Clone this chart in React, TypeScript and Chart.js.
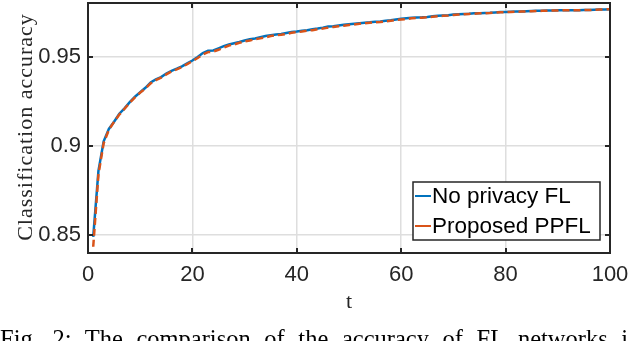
import React, { useEffect, useRef } from "react";
import { Chart, registerables } from "chart.js";

Chart.register(...registerables);

const T = [
  1, 2, 3, 4, 5, 6, 7, 8, 9, 10, 11, 12, 13, 14, 15, 16, 17, 18, 19, 20,
  21, 22, 23, 24, 25, 26, 27, 28, 29, 30, 31, 32, 33, 34, 35, 36, 37, 38, 39, 40,
  41, 42, 43, 44, 45, 46, 47, 48, 49, 50, 51, 52, 53, 54, 55, 56, 57, 58, 59, 60,
  61, 62, 63, 64, 65, 66, 67, 68, 69, 70, 71, 72, 73, 74, 75, 76, 77, 78, 79, 80,
  81, 82, 83, 84, 85, 86, 87, 88, 89, 90, 91, 92, 93, 94, 95, 96, 97, 98, 99, 100,
];

const NO_PRIVACY_FL = [
  0.849, 0.886, 0.9025, 0.9095, 0.9135, 0.918, 0.921, 0.9245, 0.9275, 0.93,
  0.9325, 0.9355, 0.9372, 0.9385, 0.9405, 0.942, 0.9432, 0.9445, 0.9462, 0.9478,
  0.9498, 0.952, 0.9532, 0.9534, 0.9546, 0.9558, 0.9568, 0.9575, 0.9582, 0.959,
  0.9597, 0.9601, 0.9608, 0.9615, 0.962, 0.9624, 0.9627, 0.9632, 0.9637, 0.964,
  0.9645, 0.9648, 0.9653, 0.9657, 0.9662, 0.9668, 0.967, 0.9674, 0.9678, 0.9681,
  0.9684, 0.9687, 0.969, 0.9692, 0.9695, 0.9697, 0.97, 0.9703, 0.9708, 0.9712,
  0.9715, 0.9717, 0.9719, 0.972, 0.9722, 0.9726, 0.9728, 0.973, 0.9732, 0.9735,
  0.9737, 0.9739, 0.974, 0.9742, 0.9743, 0.9744, 0.9745, 0.9747, 0.9749, 0.975,
  0.9751, 0.9752, 0.9753, 0.9754, 0.9755, 0.9756, 0.9757, 0.9758, 0.9758, 0.9759,
  0.9759, 0.976, 0.976, 0.976, 0.9761, 0.9761, 0.9762, 0.9763, 0.9764, 0.9765,
];

const PROPOSED_PPFL = [
  0.8435, 0.884, 0.9015, 0.909, 0.9135, 0.9175, 0.9208, 0.9242, 0.9272, 0.9298,
  0.9322, 0.935, 0.9368, 0.9382, 0.94, 0.9417, 0.9428, 0.9442, 0.9458, 0.9474,
  0.9492, 0.9512, 0.9525, 0.9528, 0.9538, 0.955, 0.9562, 0.9568, 0.9577, 0.9585,
  0.959, 0.9597, 0.9602, 0.9608, 0.9615, 0.962, 0.9622, 0.9627, 0.9633, 0.9637,
  0.964, 0.9645, 0.9648, 0.9653, 0.9657, 0.9662, 0.9666, 0.967, 0.9673, 0.9677,
  0.968, 0.9684, 0.9686, 0.9689, 0.9692, 0.9694, 0.9697, 0.97, 0.9705, 0.9708,
  0.971, 0.9714, 0.9716, 0.9718, 0.972, 0.9723, 0.9726, 0.9728, 0.973, 0.9733,
  0.9735, 0.9737, 0.9739, 0.974, 0.9742, 0.9743, 0.9744, 0.9746, 0.9748, 0.9749,
  0.975, 0.9751, 0.9752, 0.9753, 0.9754, 0.9755, 0.9756, 0.9757, 0.9758, 0.9758,
  0.9759, 0.9759, 0.976, 0.976, 0.976, 0.9761, 0.9762, 0.9763, 0.9764, 0.9765,
];

const SERIES_NAMES = ["No privacy FL", "Proposed PPFL"];
const Y_TICKS = [0.85, 0.9, 0.95];
const Y_TICK_LABELS = ["0.85", "0.9", "0.95"];
const X_TICKS = [0, 20, 40, 60, 80, 100];
const Y_TITLE = "Classification accuracy";
const X_TITLE = "t";
const CAPTION = "Fig. 2: The comparison of the accuracy of FL networks i";

const BLUE = "#0072BD";
const ORANGE = "#D95319";
const AXIS = "#262626";
const SANS = '"Liberation Sans", Arial, sans-serif';
const SERIF = '"Liberation Serif", "Times New Roman", serif';

const framePlugin = {
  id: "matlabFrame",
  afterDatasetsDraw(chart: any) {
    const { ctx, chartArea: a, scales } = chart;
    const xs = scales.x;
    const ys = scales.y;
    ctx.save();
    ctx.strokeStyle = AXIS;
    ctx.lineWidth = 2;
    ctx.strokeRect(a.left, a.top, a.right - a.left, a.bottom - a.top);
    const tl = 5;
    ctx.beginPath();
    X_TICKS.forEach((v) => {
      const px = Math.round(xs.getPixelForValue(v));
      ctx.moveTo(px, a.bottom);
      ctx.lineTo(px, a.bottom - tl);
      ctx.moveTo(px, a.top);
      ctx.lineTo(px, a.top + tl);
    });
    Y_TICKS.forEach((v) => {
      const py = Math.round(ys.getPixelForValue(v));
      ctx.moveTo(a.left, py);
      ctx.lineTo(a.left + tl, py);
      ctx.moveTo(a.right, py);
      ctx.lineTo(a.right - tl, py);
    });
    ctx.stroke();

    // legend
    const lx = 413, ly = 182, lw = 187, lh = 58;
    ctx.fillStyle = "#ffffff";
    ctx.fillRect(lx, ly, lw, lh);
    ctx.strokeStyle = AXIS;
    ctx.lineWidth = 1.5;
    ctx.strokeRect(lx, ly, lw, lh);
    const rows = [
      { name: SERIES_NAMES[0], color: BLUE, y: 196 },
      { name: SERIES_NAMES[1], color: ORANGE, y: 226 },
    ];
    ctx.font = `22.5px ${SANS}`;
    ctx.textAlign = "left";
    ctx.textBaseline = "middle";
    rows.forEach((r) => {
      ctx.strokeStyle = r.color;
      ctx.lineWidth = 2;
      ctx.beginPath();
      ctx.moveTo(415, r.y);
      ctx.lineTo(431, r.y);
      ctx.stroke();
      ctx.fillStyle = "#000000";
      ctx.fillText(r.name, 432, r.y + 1);
    });

    // axis titles
    ctx.fillStyle = AXIS;
    ctx.save();
    ctx.translate(26, 127);
    ctx.rotate(-Math.PI / 2);
    ctx.font = `22px ${SERIF}`;
    try {
      (ctx as any).letterSpacing = "1px";
    } catch (e) {}
    ctx.textAlign = "center";
    ctx.textBaseline = "middle";
    ctx.fillText(Y_TITLE, 0, 0);
    ctx.restore();

    ctx.font = `22px ${SERIF}`;
    ctx.textAlign = "center";
    ctx.textBaseline = "alphabetic";
    ctx.fillText(X_TITLE, (a.left + a.right) / 2, 308);
    ctx.restore();
  },
};

export default function App() {
  const ref = useRef<HTMLCanvasElement | null>(null);

  useEffect(() => {
    if (!ref.current) return;
    const chart = new Chart(ref.current, {
      type: "line",
      data: {
        labels: T,
        datasets: [
          {
            label: SERIES_NAMES[0],
            data: T.map((t, i) => ({ x: t, y: NO_PRIVACY_FL[i] })),
            borderColor: BLUE,
            borderWidth: 2.5,
            pointRadius: 0,
            tension: 0,
            fill: false,
            order: 1,
          },
          {
            label: SERIES_NAMES[1],
            data: T.map((t, i) => ({ x: t, y: PROPOSED_PPFL[i] })),
            borderColor: ORANGE,
            borderWidth: 2.5,
            borderDash: [7, 4],
            pointRadius: 0,
            tension: 0,
            fill: false,
            order: 0,
          },
        ],
      },
      options: {
        animation: false,
        responsive: false,
        devicePixelRatio: 1,
        layout: { padding: { top: 3, right: 30, left: 0, bottom: 0 } },
        plugins: { legend: { display: false }, tooltip: { enabled: false } },
        scales: {
          x: {
            type: "linear",
            min: 0,
            max: 100,
            grid: { color: "#dedede", lineWidth: 1.5, drawTicks: false },
            border: { display: false },
            ticks: {
              stepSize: 20,
              padding: 9,
              color: AXIS,
              font: { family: SANS, size: 22 },
              maxRotation: 0,
            },
            afterBuildTicks: (s: any) => {
              s.ticks = X_TICKS.map((v) => ({ value: v }));
            },
            afterFit: (s: any) => {
              s.height = 88;
              s.paddingLeft = 0;
              s.paddingRight = 0;
            },
          },
          y: {
            type: "linear",
            min: 0.84,
            max: 0.98,
            grid: { color: "#dedede", lineWidth: 1.5, drawTicks: false },
            border: { display: false },
            ticks: {
              padding: 7,
              color: AXIS,
              font: { family: SANS, size: 22 },
              callback: (v: any) => {
                const i = Y_TICKS.findIndex((t) => Math.abs(t - v) < 1e-9);
                return i >= 0 ? Y_TICK_LABELS[i] : "";
              },
            },
            afterBuildTicks: (s: any) => {
              s.ticks = Y_TICKS.map((v) => ({ value: v }));
            },
            afterFit: (s: any) => {
              s.width = 88;
              s.paddingTop = 0;
              s.paddingBottom = 0;
            },
          },
        },
      },
      plugins: [framePlugin],
    });
    return () => chart.destroy();
  }, []);

  return (
    <div
      style={{
        position: "absolute",
        left: 0,
        top: 0,
        width: 640,
        height: 341,
        overflow: "hidden",
        background: "#ffffff",
      }}
    >
      <canvas ref={ref} width={640} height={341} style={{ display: "block" }} />
      <div
        style={{
          position: "absolute",
          left: 0,
          top: 327,
          fontFamily: SERIF,
          fontSize: 24.5,
          lineHeight: "24px",
          wordSpacing: "7.5px",
          whiteSpace: "nowrap",
          color: "#000000",
        }}
      >
        {CAPTION}
      </div>
    </div>
  );
}
